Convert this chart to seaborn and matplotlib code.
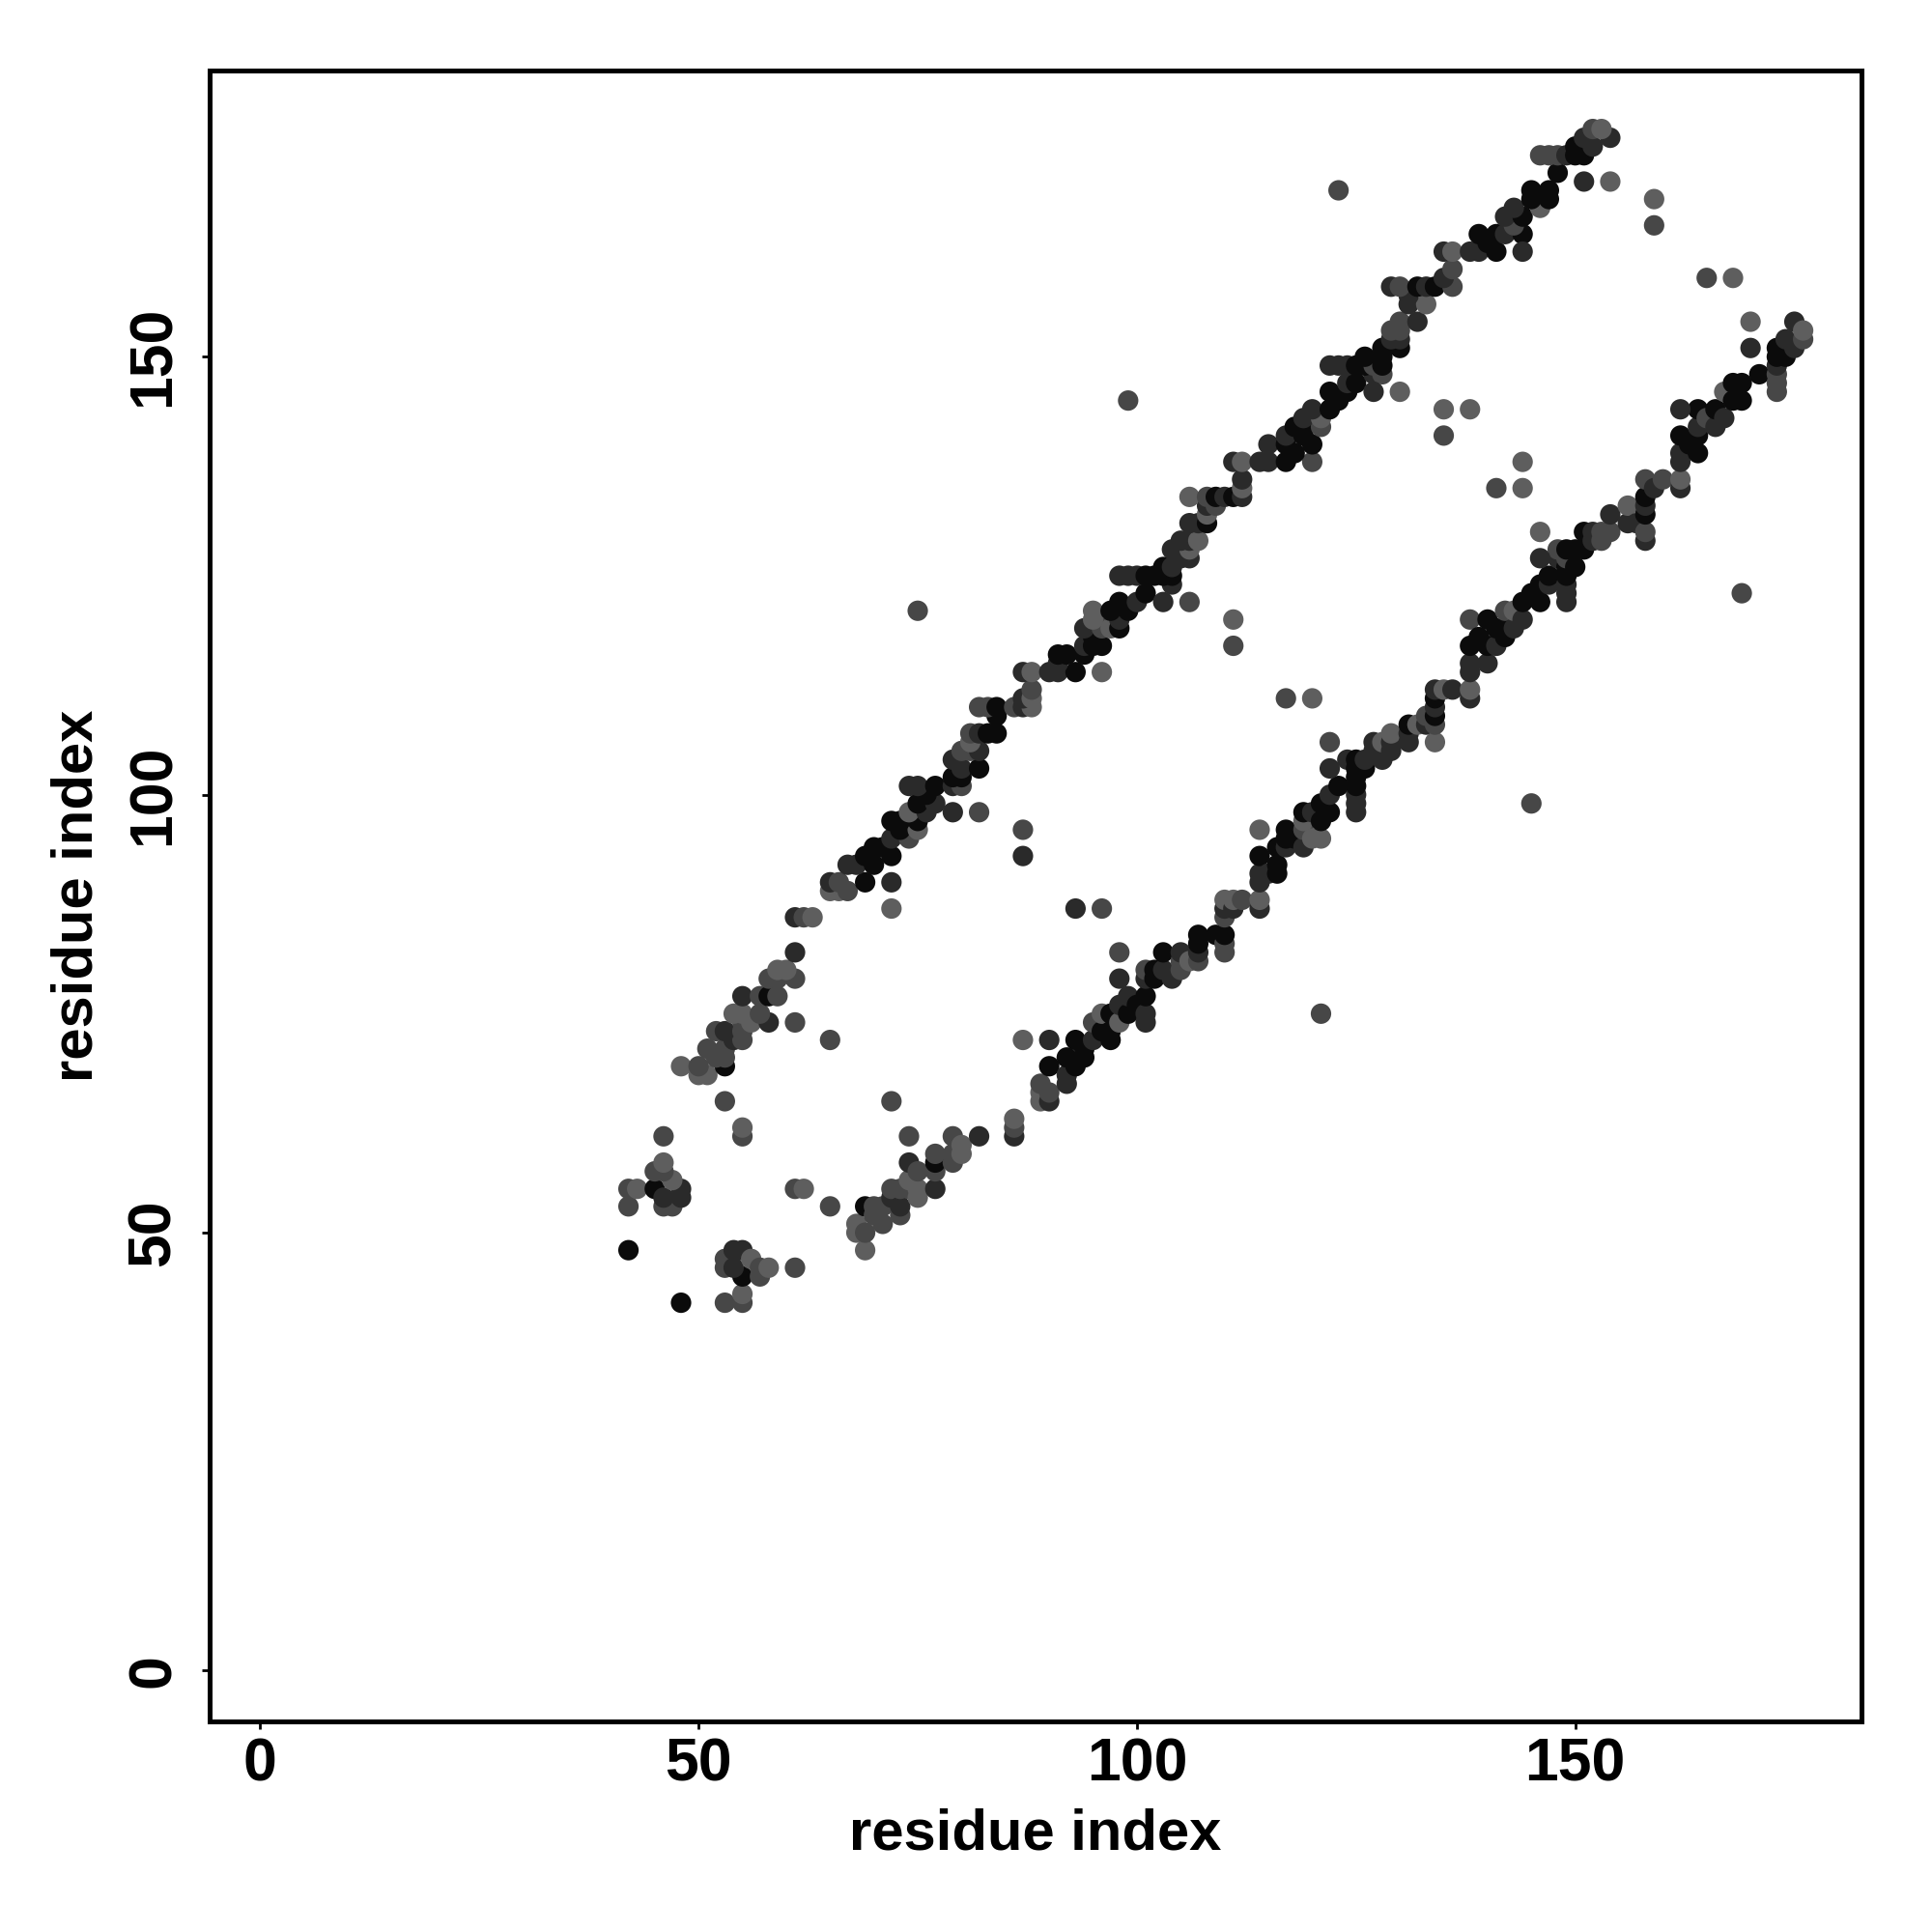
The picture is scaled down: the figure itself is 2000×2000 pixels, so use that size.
import pandas as pd
import matplotlib.pyplot as plt
import seaborn as sns

res_i = [48, 53, 55, 55, 53, 53, 54, 55, 55, 54, 56, 57, 57, 58, 61, 61, 62, 65,
         68, 68, 69, 69, 69, 70, 70, 71, 71, 72, 72, 73, 73, 73, 74, 74, 74, 75, 75, 75,
         77, 77, 77, 77, 79, 79, 79, 80, 80, 82, 86, 86, 86, 72, 74,
         87, 90, 93, 89, 89, 89, 90, 90, 90, 92, 92, 92, 93, 94, 94, 95, 95, 96, 96,
         97, 97, 97, 98, 98, 99, 99, 100, 101, 101, 101, 98, 98, 93, 96,
         101, 101, 102, 102, 103, 103, 104, 105, 105, 105, 106, 107, 107, 107, 107, 109,
         110, 110, 110, 110, 110, 110, 111, 111, 112,
         114, 114, 114, 114, 114, 114, 115, 116, 116, 116, 117, 117, 117, 118, 119, 119,
         119, 120, 119, 120, 121, 121, 121, 122, 122, 123, 124, 125, 125, 125, 125, 125,
         125, 125, 126, 126, 127, 127, 128, 128, 128, 129, 129, 129, 131, 131, 131, 132,
         133, 133, 134, 134, 134, 134, 134, 134, 135, 136,
         121, 117, 120, 122, 122, 145,
         138, 138, 138, 138, 138, 138, 139, 140, 140, 140, 141, 141, 142, 142, 142, 143,
         143, 144, 144, 145, 146, 146, 147, 147, 148, 148, 149, 149, 149, 149, 149, 149,
         149, 150, 150, 151, 151, 152, 152, 153, 153, 154, 154, 156, 156, 157, 158, 158,
         158, 158, 158, 158, 159, 160, 162, 162, 162, 162, 162, 163, 164, 164, 164, 164,
         165, 166, 166, 167, 167, 168, 168, 169, 169, 171, 173, 173, 173, 173, 173, 173,
         174, 174, 175, 175, 176, 176,
         162, 170, 170, 165, 168, 169, 144, 144, 141, 146, 146]
res_j = [42, 42, 42, 43, 46, 47, 48, 48, 45, 46, 47, 46, 45, 46, 46, 55, 55, 53,
         50, 51, 48, 50, 53, 52, 53, 51, 53, 54, 55, 52, 53, 55, 55, 56, 58, 54, 55, 57,
         55, 57, 58, 59, 58, 59, 61, 59, 60, 61, 61, 62, 63, 65, 61,
         72, 72, 72, 65, 66, 67, 65, 66, 69, 67, 68, 70, 69, 70, 71, 72, 74, 73, 75,
         72, 73, 75, 74, 76, 75, 77, 76, 74, 75, 77, 79, 82, 87, 87,
         79, 80, 79, 80, 80, 82, 79, 80, 81, 82, 81, 81, 82, 83, 84, 84,
         82, 83, 84, 86, 87, 88, 87, 88, 88,
         87, 88, 90, 91, 93, 96, 91, 91, 92, 94, 94, 95, 96, 95, 94, 96,
         97, 95, 98, 98, 95, 97, 99, 98, 100, 101, 104, 98, 99, 100, 101, 102,
         103, 104, 103, 104, 105, 106, 104, 105, 106, 105, 106, 107, 106, 107, 108, 108,
         108, 109, 106, 108, 109, 110, 111, 112, 112, 112,
         75, 111, 111, 103, 106, 99,
         111, 112, 114, 115, 117, 120, 118, 115, 117, 120, 117, 119, 118, 119, 121, 119,
         121, 120, 122, 123, 122, 124, 124, 125, 127, 128, 122, 123, 124, 125, 126, 127,
         128, 126, 128, 128, 130, 129, 130, 129, 130, 130, 132, 131, 133, 131, 129, 130,
         132, 133, 134, 136, 135, 136, 135, 136, 138, 139, 141, 140, 139, 141, 142, 144,
         143, 142, 144, 143, 146, 145, 147, 145, 147, 148, 146, 147, 148, 149, 150, 151,
         150, 152, 151, 154, 152, 153,
         144, 151, 154, 159, 159, 123, 135, 138, 135, 127, 130]
# 0 = strongest (black) ... 3 = weakest (light grey)
level = [0, 2, 2, 3, 2, 2, 1, 1, 0, 1, 3, 2, 2, 3, 2, 2, 3, 2,
         3, 3, 3, 2, 0, 2, 2, 2, 2, 1, 2, 2, 1, 2, 2, 3, 1, 3, 3, 2,
         1, 2, 0, 2, 2, 2, 2, 3, 3, 1, 1, 2, 3, 2, 2,
         3, 1, 0, 3, 3, 2, 1, 2, 0, 1, 1, 0, 0, 0, 0, 1, 2, 0, 3,
         0, 0, 0, 3, 1, 0, 1, 0, 1, 1, 0, 1, 2, 1, 2,
         1, 2, 0, 0, 1, 0, 1, 2, 2, 1, 3, 2, 1, 0, 0, 0,
         2, 2, 0, 2, 1, 3, 1, 3, 2,
         1, 3, 1, 1, 0, 3, 1, 0, 0, 0, 1, 0, 0, 0, 1, 2,
         3, 3, 0, 1, 3, 0, 0, 0, 1, 0, 1, 1, 1, 1, 0, 0,
         0, 0, 0, 1, 1, 1, 1, 1, 3, 1, 1, 3, 1, 1, 0, 3,
         1, 2, 3, 2, 0, 1, 0, 1, 3, 1,
         2, 2, 3, 1, 2, 2,
         1, 3, 1, 1, 0, 2, 0, 1, 0, 0, 1, 0, 0, 0, 2, 1,
         3, 1, 0, 0, 0, 0, 1, 0, 1, 2, 1, 1, 1, 0, 0, 2,
         0, 0, 0, 0, 0, 1, 1, 2, 2, 2, 1, 1, 3, 1, 1, 2,
         0, 1, 0, 2, 1, 2, 1, 3, 1, 1, 0, 0, 0, 0, 1, 0,
         2, 1, 0, 1, 3, 0, 0, 0, 0, 0, 2, 2, 2, 1, 0, 0,
         0, 1, 1, 1, 2, 3,
         1, 1, 3, 2, 3, 2, 3, 3, 2, 1, 3]
greys = ['#0b0b0b', '#2a2a2a', '#474747', '#5e5e5e']

df = pd.DataFrame({'x': res_i + res_j, 'y': res_j + res_i, 'level': level + level})

sns.set_style('white')
plt.rcParams['font.family'] = ['Liberation Sans', 'DejaVu Sans']
plt.rcParams['font.weight'] = 'bold'
plt.rcParams['text.color'] = 'black'
plt.rcParams['axes.labelcolor'] = 'black'
plt.rcParams['xtick.color'] = 'black'
plt.rcParams['ytick.color'] = 'black'

fig = plt.figure(figsize=(10, 10), dpi=200)
ax = fig.add_axes([0.1084, 0.109, 0.8553, 0.8546])
sns.scatterplot(data=df, x='x', y='y', hue='level', palette=greys,
                s=58, linewidth=0, legend=False, ax=ax)

ax.set_xlim(-5.8, 182.7)
ax.set_ylim(-5.8, 182.7)
ax.set_xticks([0, 50, 100, 150])
ax.set_yticks([0, 50, 100, 150])
ax.tick_params(axis='both', direction='out', length=3, width=1.0, labelsize=22.5,
               left=True, bottom=True, colors='black')
ax.tick_params(axis='x', pad=2.5)
ax.tick_params(axis='y', pad=7)
for lab in ax.get_yticklabels():
    lab.set_rotation(90)
    lab.set_va('center')
for lab in ax.get_xticklabels() + ax.get_yticklabels():
    lab.set_fontweight('bold')
for sp in ax.spines.values():
    sp.set_linewidth(1.8)
    sp.set_color('black')
ax.set_xlabel('residue index', fontsize=21.5, fontweight='bold', labelpad=5.5)
ax.set_ylabel('residue index', fontsize=21.5, fontweight='bold', labelpad=8)

fig.savefig('out.png', dpi=200, facecolor='white')
